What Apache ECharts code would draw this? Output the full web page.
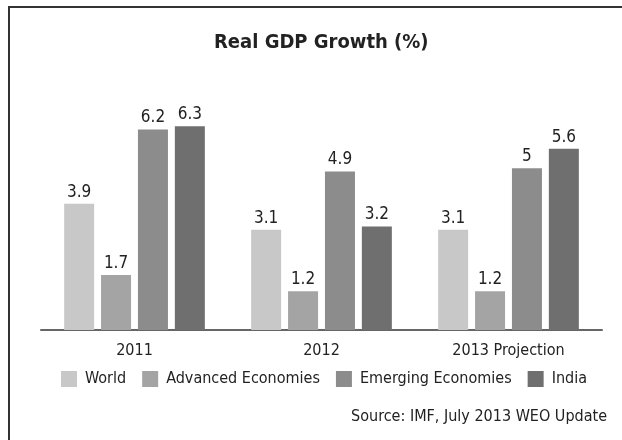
<!DOCTYPE html>
<html><head><meta charset="utf-8">
<script src="https://cdn.jsdelivr.net/npm/echarts@6/dist/echarts.min.js"></script>
<style>html,body{margin:0;padding:0;background:#fff}#c{width:622px;height:440px}</style>
</head><body><div id="c"></div>
<script>
const categories = ['2011', '2012', '2013 Projection'];
const world = [3.9, 3.1, 3.1];
const advanced = [1.7, 1.2, 1.2];
const emerging = [6.2, 4.9, 5];
const india = [6.3, 3.2, 5.6];
const seriesNames = ['World', 'Advanced Economies', 'Emerging Economies', 'India'];
const colors = ['#c8c8c8', '#a4a4a4', '#8c8c8c', '#6f6f6f'];
const FONT = '"DejaVu Sans Condensed", "Liberation Sans Narrow", sans-serif';

const chart = echarts.init(document.getElementById('c'));
const mk = (name, data, i) => ({
  name, type: 'bar', data, barWidth: 30, barGap: '23%',
  itemStyle: { color: colors[i] },
  label: { show: true, position: 'top', distance: 3, color: '#222', fontFamily: FONT, fontSize: 17 }
});
chart.setOption({
  animation: false,
  graphic: [{ type: 'rect', shape: { x: 9, y: 7, width: 700, height: 500 },
    style: { fill: 'none', stroke: '#333', lineWidth: 2 }, z: 10 },
    { type: 'text', right: 15, top: 409, style: { text: 'Source: IMF, July 2013 WEO Update',
      font: '16px ' + FONT, fill: '#222' } }],
  title: { text: 'Real GDP Growth (%)', left: 209, top: 28,
    textStyle: { fontFamily: FONT, fontWeight: 'bold', fontSize: 20, color: '#222' } },
  legend: { data: seriesNames, bottom: 48, left: 56, itemWidth: 16, itemHeight: 16, itemGap: 16,
    icon: 'rect', textStyle: { fontFamily: FONT, fontSize: 16, color: '#222', padding: [0, 0, 0, 3] } },
  grid: { left: 41, right: 20, top: 110, bottom: 110 },
  xAxis: { type: 'category', data: categories,
    axisLine: { lineStyle: { color: '#666', width: 2 } }, axisTick: { show: false },
    axisLabel: { fontFamily: FONT, fontSize: 16, color: '#222', margin: 13 } },
  yAxis: { type: 'value', min: 0, max: 6.8, show: false, splitLine: { show: false } },
  series: [mk(seriesNames[0], world, 0), mk(seriesNames[1], advanced, 1),
           mk(seriesNames[2], emerging, 2), mk(seriesNames[3], india, 3)]
});
</script></body></html>
